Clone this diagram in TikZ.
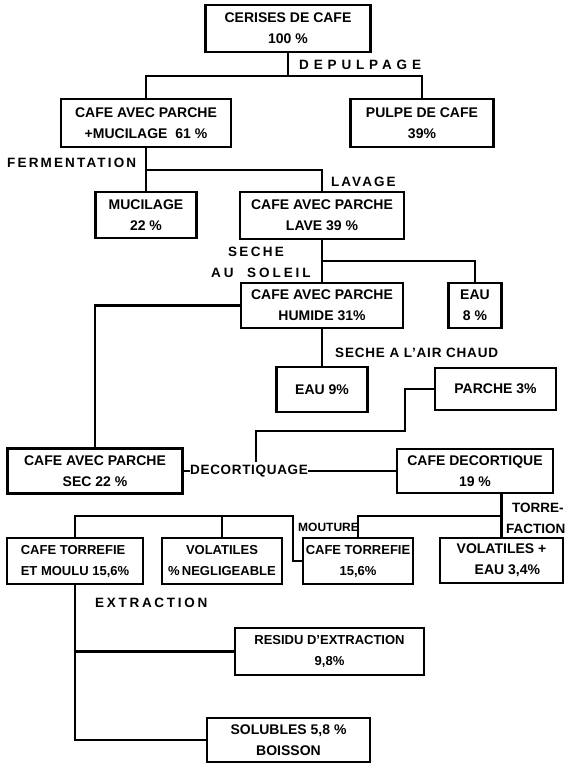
\documentclass[tikz,border=0pt]{standalone}
\usepackage{fontspec}
\setmainfont{Liberation Sans}
\newcommand\fs{\fontsize{14}{21}\selectfont\bfseries}
\newcommand\fss{\fontsize{13}{21}\selectfont\bfseries}
\newcommand\fl{\fontsize{13.5}{20}\selectfont\bfseries}
\newcommand\ls[1]{\addfontfeatures{LetterSpace=#1}}
\tikzset{
  box/.style={draw, line width=2.6pt, inner sep=0pt, align=center, font=\fs},
  lbl/.style={inner sep=0pt, anchor=west, font=\fl},
  con/.style={line width=2.2pt},
}
\begin{document}
\begin{tikzpicture}[x=1pt,y=-1pt]
\useasboundingbox (0,0) rectangle (568,765);
% boxes
\node[box, minimum width=165pt, minimum height=47pt] (b1) at (288,28.5) {CERISES DE CAFE\\100 \%};
\node[box, minimum width=170pt, minimum height=48pt] (b2) at (146,123) {CAFE AVEC PARCHE\\+MUCILAGE\ \ 61 \%};
\node[box, minimum width=143pt, minimum height=48pt] (b3) at (422,123) {PULPE DE CAFE\\39\%};
\node[box, minimum width=101pt, minimum height=46pt] (b4) at (146,215) {MUCILAGE\\22 \%};
\node[box, minimum width=164pt, minimum height=47pt] (b5) at (322,215.5) {CAFE AVEC PARCHE\\LAVE 39 \%};
\node[box, minimum width=162pt, minimum height=45pt] (b6) at (322,305.5) {CAFE AVEC PARCHE\\HUMIDE 31\%};
\node[box, minimum width=53pt, minimum height=45pt] (b7) at (475,305.5) {EAU\\8 \%};
\node[box, minimum width=91pt, minimum height=45pt] (b8) at (322,389.5) {EAU 9\%};
\node[box, minimum width=121pt, minimum height=42pt] (b9) at (495.5,389) {PARCHE 3\%};
\node[box, minimum width=175pt, minimum height=45pt] (b10) at (95,471) {CAFE AVEC PARCHE\\SEC 22 \%};
\node[box, minimum width=156pt, minimum height=44pt] (b11) at (475,471) {CAFE DECORTIQUE\\19 \%};
\node[box, minimum width=136pt, minimum height=46pt, align=left, font=\fss] (b12) at (75,561) {CAFE TORREFIE\\ET MOULU 15,6\%};
\node[box, minimum width=120pt, minimum height=46pt, font=\fss] (b13) at (222,561) {VOLATILES\\\%\,NEGLIGEABLE};
\node[box, minimum width=110pt, minimum height=46pt, font=\fss] (b14) at (358,561) {CAFE TORREFIE\\15,6\%};
\node[box, minimum width=123pt, minimum height=45pt] (b15) at (501.5,560.5) {VOLATILES +\\\ \ \ EAU 3,4\%};
\node[box, minimum width=189pt, minimum height=47pt, font=\fss] (b16) at (329.5,651.5) {RESIDU D'EXTRACTION\\9,8\%};
\node[box, minimum width=163pt, minimum height=44pt] (b17) at (288.5,740) {SOLUBLES 5,8 \%\\BOISSON\hspace{2.2em}};
% labels
\node[lbl] (l1) at (299,65) {\ls{36}DEPULPAGE};
\node[lbl] (l2) at (7,163) {\ls{16}FERMENTATION};
\node[lbl] (l3) at (331,182) {\ls{15}LAVAGE};
\node[lbl] (l4) at (228,252) {\ls{17}SECHE};
\node[lbl] (l5) at (211,273) {\ls{22}AU\ \ SOLEIL};
\node[lbl] (l6) at (335,353) {\ls{6}SECHE A L'AIR CHAUD};
\node[lbl] (dec) at (190,471) {\ls{5}DECORTIQUAGE};
\node[lbl, font=\fontsize{12}{14}\selectfont\bfseries] (l8) at (298,527) {MOUTURE};
\node[lbl] (l9) at (512,508) {TORRE-};
\node[lbl] (l10) at (506,529) {FACTION};
\node[lbl] (l11) at (95,603) {\ls{20}EXTRACTION};
% junction coordinates
\coordinate (j1) at (288,76);
\coordinate (j2) at (146,170);
\coordinate (j3) at (322,261);
\coordinate (pa) at (405,431);
\coordinate (pb) at (256,462);
\coordinate (jt) at (501.5,516);
\coordinate (jl) at (293,516);
% connectors
\draw[con] (b1.south) -- (j1);
\draw[con] (b2.north) |- (j1) -| (b3.north);
\draw[con] (b2.south) -- (b4.north);
\draw[con] (j2) -| (b5.north);
\draw[con] (b5.south) -- (b6.north);
\draw[con] (j3) -| (b7.north);
\draw[con] (b6.west) -| (b10.north);
\draw[con] (b6.south) -- (b8.north);
\draw[con] (b9.west) -| (pa) -| (pb);
\draw[con] (b10.east) -- (dec.west);
\draw[con] (dec.east) -- (b11.west);
\draw[con] (b15.north) -- (b15.north |- b11.south);
\draw[con] (b14.north) |- (jt);
\draw[con] (b12.north) |- (jl) -- (jl |- b14.west) -- (b14.west);
\draw[con] (b13.north) -- (b13.north |- jl);
\draw[con] (b12.south) -- (b12.south |- b17.west) -- (b17.west);
\draw[con] (b16.west) -- (b16.west -| b12.south);
\end{tikzpicture}
\end{document}
